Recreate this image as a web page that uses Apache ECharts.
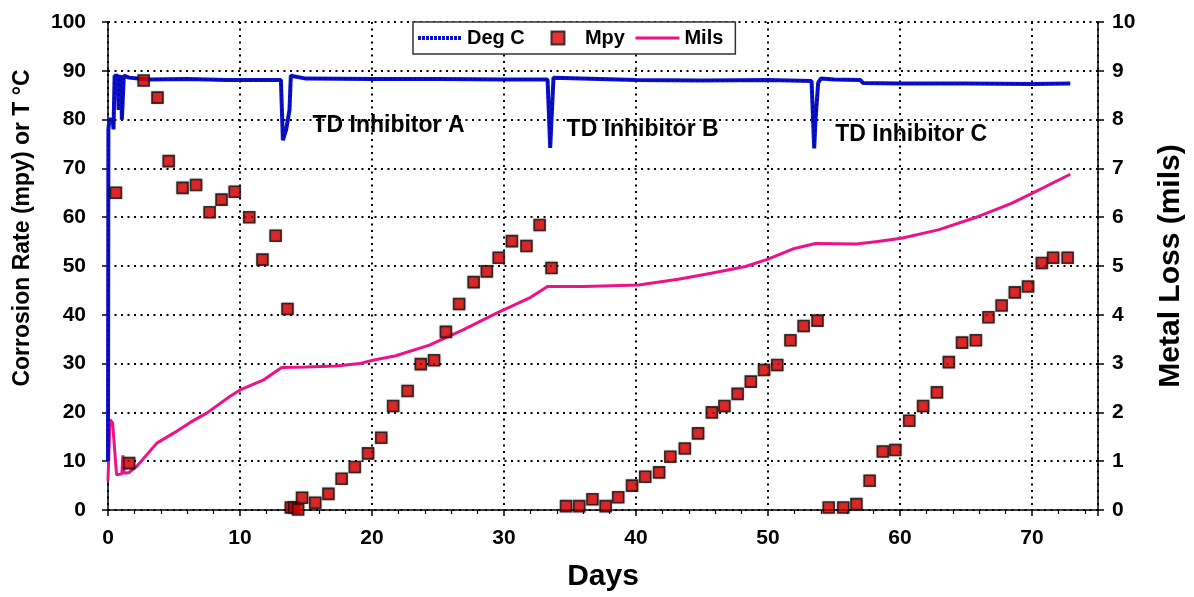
<!DOCTYPE html>
<html>
<head>
<meta charset="utf-8">
<script src="https://cdn.jsdelivr.net/npm/echarts@6/dist/echarts.min.js"></script>
<style>
html,body{margin:0;padding:0;background:#fff;}
#chart{width:1194px;height:597px;}
</style>
</head>
<body>
<div id="chart"></div>
<script>
// Temperature (Deg C), left axis
const tempDays = [0, 0.03, 0.1, 0.35, 0.42, 0.5, 0.75, 0.8, 0.88, 1.0, 1.05, 1.12, 1.2, 1.6, 3, 6, 9, 13.1, 13.25, 13.5, 13.75, 13.85, 15, 20, 25, 30, 33.3, 33.5, 33.6, 33.75, 40, 45, 50, 53.3, 53.5, 53.6, 53.8, 54, 55, 57, 57.2, 60, 65, 70, 72.9];
const tempVals = [10, 78, 80, 80, 78, 89, 89, 82, 88.5, 89, 80, 80, 89, 88.6, 88.2, 88.3, 88.1, 88.1, 75.8, 78, 82, 89, 88.4, 88.3, 88.3, 88.2, 88.2, 74.2, 80, 88.6, 88.1, 88.0, 88.1, 87.9, 74.1, 80, 87.5, 88.4, 88.2, 88.1, 87.5, 87.4, 87.4, 87.3, 87.4];

// Corrosion rate (Mpy), left axis
const mpyDays = [0.6, 1.6, 2.7, 3.75, 4.6, 5.65, 6.67, 7.7, 8.6, 9.6, 10.7, 11.7, 12.7, 13.6, 13.85, 14.1, 14.4, 14.7, 15.7, 16.7, 17.7, 18.7, 19.7, 20.7, 21.6, 22.7, 23.7, 24.7, 25.6, 26.6, 27.7, 28.7, 29.6, 30.6, 31.7, 32.7, 33.6, 34.7, 35.7, 36.7, 37.7, 38.65, 39.7, 40.7, 41.75, 42.6, 43.7, 44.7, 45.75, 46.7, 47.7, 48.7, 49.7, 50.7, 51.7, 52.7, 53.75, 54.6, 55.7, 56.7, 57.7, 58.7, 59.65, 60.7, 61.75, 62.8, 63.7, 64.7, 65.75, 66.7, 67.7, 68.7, 69.7, 70.75, 71.6, 72.7];
const mpyVals = [65, 9.6, 88, 84.5, 71.5, 66, 66.6, 61, 63.6, 65.2, 60, 51.3, 56.2, 41.2, 0.5, 0.5, 0.1, 2.5, 1.5, 3.3, 6.4, 8.8, 11.6, 14.8, 21.3, 24.4, 29.9, 30.7, 36.5, 42.2, 46.7, 48.9, 51.7, 55.1, 54.1, 58.4, 49.6, 0.8, 0.8, 2.2, 0.8, 2.6, 5.0, 6.8, 7.7, 10.9, 12.6, 15.7, 20.0, 21.3, 23.8, 26.3, 28.7, 29.7, 34.8, 37.7, 38.8, 0.5, 0.5, 1.2, 6.0, 12.0, 12.3, 18.3, 21.3, 24.1, 30.3, 34.3, 34.8, 39.5, 41.9, 44.6, 45.8, 50.6, 51.7, 51.7];

// Metal loss (Mils), right axis
const milsDays = [0, 0.15, 0.35, 0.65, 1.05, 1.13, 1.23, 1.6, 2.2, 3.7, 5, 6.2, 7.5, 9.2, 10, 11.75, 13.15, 15, 17.3, 19.06, 20.06, 21.8, 24.35, 26.9, 29.4, 31.9, 33.3, 36, 40.2, 43.2, 45.7, 48.3, 50, 52, 53.6, 56.7, 58.3, 60.1, 62.9, 65.9, 68.4, 70, 72.9];
const milsVals = [0.6, 1.85, 1.78, 0.72, 0.74, 1.12, 0.75, 0.77, 0.9, 1.37, 1.58, 1.79, 1.99, 2.32, 2.46, 2.66, 2.92, 2.93, 2.95, 3.0, 3.07, 3.16, 3.38, 3.69, 4.03, 4.34, 4.58, 4.58, 4.61, 4.73, 4.85, 4.99, 5.14, 5.36, 5.46, 5.45, 5.5, 5.57, 5.74, 6.01, 6.28, 6.49, 6.88];

// Annotations (data coordinates on left axis)
const noteLabels = ['TD Inhibitor A', 'TD Inhibitor B', 'TD Inhibitor C'];
const noteDays = [21.25, 40.5, 60.85];
const noteVals = [78.7, 77.9, 77.0];

const zip = (a, b) => a.map((v, i) => [v, b[i]]);
const FONT = 'Liberation Sans, Arial, sans-serif';
const gridDots = { color: '#000', width: 2, type: [2, 4.5] };

const chart = echarts.init(document.getElementById('chart'));
chart.setOption({
  animation: false,
  backgroundColor: '#fff',
  textStyle: { fontFamily: FONT },
  grid: { left: 108, right: 92, top: 22, bottom: 87, containLabel: false },
  legend: {
    left: 413, top: 22,
    data: [
      { name: 'Deg C', itemStyle: { opacity: 0 }, lineStyle: { width: 4, color: '#0a10d0', type: [3, 1] } },
      { name: 'Mpy', icon: 'path://M0,0H10V10H0Z' },
      { name: 'Mils', itemStyle: { opacity: 0 }, lineStyle: { width: 3, color: '#EE1289' } }
    ],
    formatter: n => n === 'Deg C' ? n + '\u00a0\u00a0\u00a0' : n,
    itemWidth: 44, itemHeight: 13, itemGap: 9,
    padding: [6, 12, 6, 3],
    borderColor: '#333', borderWidth: 1.5, backgroundColor: '#fff',
    textStyle: { fontFamily: FONT, fontWeight: 'bold', fontSize: 20, color: '#000' }
  },
  xAxis: {
    type: 'value', min: 0, max: 75, interval: 10,
    name: 'Days', nameLocation: 'middle', nameGap: 52,
    nameTextStyle: { fontFamily: FONT, fontWeight: 'bold', fontSize: 30, color: '#000' },
    axisLine: { show: true, lineStyle: { color: '#000', width: 1.5 } },
    axisTick: { show: true, length: 6, lineStyle: { color: '#000', width: 1.5 } },
    minorTick: { show: true, splitNumber: 5, length: 4, lineStyle: { color: '#000', width: 1.2 } },
    axisLabel: { showMaxLabel: false, margin: 18, fontFamily: FONT, fontWeight: 'bold', fontSize: 21, color: '#000' },
    splitLine: { show: true, lineStyle: gridDots }
  },
  yAxis: [
    {
      type: 'value', min: 0, max: 100, interval: 10, position: 'left',
      name: 'Corrosion Rate (mpy) or T °C', nameLocation: 'middle', nameGap: 74, nameRotate: 90,
      nameTextStyle: { fontFamily: FONT, fontWeight: 'bold', fontSize: 23, color: '#000', padding: [0, 0, 0, 76] },
      axisLine: { show: true, lineStyle: { color: '#000', width: 1.5 } },
      axisTick: { show: true, length: 6, lineStyle: { color: '#000', width: 1.5 } },
      axisLabel: { margin: 22, fontFamily: FONT, fontWeight: 'bold', fontSize: 21, color: '#000' },
      splitLine: { show: true, lineStyle: gridDots }
    },
    {
      type: 'value', min: 0, max: 10, interval: 1, position: 'right',
      name: 'Metal Loss (mils)', nameLocation: 'middle', nameGap: 58, nameRotate: 90,
      nameTextStyle: { fontFamily: FONT, fontWeight: 'bold', fontSize: 30, color: '#000' },
      axisLine: { show: true, lineStyle: { color: '#000', width: 1.5 } },
      axisTick: { show: true, length: 6, lineStyle: { color: '#000', width: 1.5 } },
      axisLabel: { margin: 14, fontFamily: FONT, fontWeight: 'bold', fontSize: 21, color: '#000' },
      splitLine: { show: false }
    }
  ],
  series: [
    {
      name: 'Mils', type: 'line', yAxisIndex: 1, symbol: 'none',
      data: zip(milsDays, milsVals),
      lineStyle: { color: '#EE1289', width: 3 }, itemStyle: { color: '#EE1289' }, z: 3
    },
    {
      name: 'Deg C', type: 'line', yAxisIndex: 0, symbol: 'none',
      data: zip(tempDays, tempVals),
      lineStyle: { color: '#0a10d0', width: 4 }, itemStyle: { color: '#0a10d0' }, z: 4
    },
    {
      name: 'DegC-pattern', type: 'line', yAxisIndex: 0, symbol: 'none', silent: true,
      data: zip(tempDays, tempVals),
      lineStyle: { color: '#000050', width: 1.2, type: [2, 3], opacity: 0.7 }, z: 5
    },
    {
      name: 'Mpy', type: 'scatter', yAxisIndex: 0, symbol: 'rect', symbolSize: 11,
      data: zip(mpyDays, mpyVals),
      itemStyle: { color: '#e00000', borderColor: '#111', borderWidth: 1.6,
                   shadowColor: 'rgba(0,0,0,0.3)', shadowBlur: 2 },
      z: 6
    },
    {
      name: 'notes', type: 'scatter', yAxisIndex: 0, symbolSize: 0, silent: true,
      data: noteDays.map((d, i) => ({ value: [d, noteVals[i]], name: noteLabels[i] })),
      itemStyle: { opacity: 1 },
      label: { show: true, position: 'inside', formatter: p => p.name, opacity: 1,
               fontFamily: FONT, fontWeight: 'bold', fontSize: 23, color: '#000' },
      z: 7
    }
  ]
});
</script>
</body>
</html>
